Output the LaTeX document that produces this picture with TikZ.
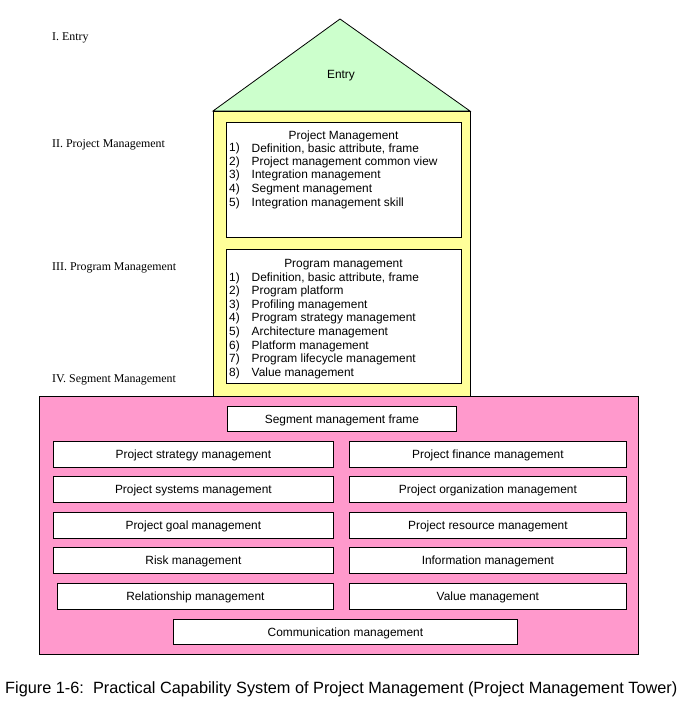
\documentclass[tikz,border=0pt]{standalone}
\usepackage{fontspec}
\setmainfont{Liberation Serif}
\newfontfamily\arial{Liberation Sans}
\definecolor{entrygreen}{RGB}{204,255,204}
\definecolor{toweryellow}{RGB}{255,255,153}
\definecolor{segpink}{RGB}{255,153,204}
\begin{document}
\begin{tikzpicture}[x=1pt,y=-1pt,
  outline/.style={draw=black,line width=0.8pt},
  wbox/.style={outline,fill=white,inner sep=0pt,anchor=north west},
  lbl/.style={font=\arial\fontsize{11.9}{13}\selectfont,inner sep=0pt,yshift=-1.5pt},
  side/.style={font=\fontsize{11.9}{13}\selectfont,inner sep=0pt,anchor=west,yshift=-1.5pt},
  item/.style={font=\arial\fontsize{11.9}{13}\selectfont,inner sep=0pt,anchor=west,yshift=-1pt}]
\useasboundingbox (0,0) rectangle (688,715);
% roof
\draw[outline,fill=entrygreen] (213,111) -- (340,19) -- (470,111) -- cycle;
\node[lbl] (entry) at (341,74) {Entry};
% tower
\draw[outline,fill=toweryellow] (213,111) rectangle (470,396);
% project management box
\node[wbox,minimum width=235pt,minimum height=115pt] (pm) at (226,122) {};
\node[lbl] (pmt) at (343.5,135) {Project Management};
\foreach \i/\t [count=\k] in {1/{Definition, basic attribute, frame},2/{Project management common view},3/{Integration management},4/{Segment management},5/{Integration management skill}}{
  \node[item] (pmn\k) at (229,{147.5+(\k-1)*13.7}) {\i)};
  \node[item] (pml\k) at (251.5,{147.5+(\k-1)*13.7}) {\t};
}
% program management box
\node[wbox,minimum width=235pt,minimum height=134pt] (pg) at (226,249) {};
\node[lbl] (pgt) at (343.5,263) {Program management};
\foreach \i/\t [count=\k] in {1/{Definition, basic attribute, frame},2/{Program platform},3/{Profiling management},4/{Program strategy management},5/{Architecture management},6/{Platform management},7/{Program lifecycle management},8/{Value management}}{
  \node[item] (pgn\k) at (229,{277+(\k-1)*13.6}) {\i)};
  \node[item] (pgl\k) at (251.5,{277+(\k-1)*13.6}) {\t};
}
% segment base
\draw[outline,fill=segpink] (39,396) rectangle (638,654);
\node[wbox,minimum width=229pt,minimum height=25pt] (smf) at (227,406) {};
\node[lbl] (smft) at (smf.center) {Segment management frame};
% rows
\foreach \y/\a/\b [count=\k] in {441/{Project strategy management}/{Project finance management},476/{Project systems management}/{Project organization management},512/{Project goal management}/{Project resource management},547/{Risk management}/{Information management}}{
  \node[wbox,minimum width=280pt,minimum height=26pt] (L\k) at (53,\y) {};
  \node[lbl] (Lt\k) at (L\k.center) {\a};
  \node[wbox,minimum width=277pt,minimum height=26pt] (R\k) at (349,\y) {};
  \node[lbl] (Rt\k) at (R\k.center) {\b};
}
\node[wbox,minimum width=276pt,minimum height=26pt] (L5) at (57,583) {};
\node[lbl] (Lt5) at (L5.center) {Relationship management};
\node[wbox,minimum width=277pt,minimum height=26pt] (R5) at (349,583) {};
\node[lbl] (Rt5) at (R5.center) {Value management};
\node[wbox,minimum width=344pt,minimum height=25pt] (cm) at (173,619) {};
\node[lbl] (cmt) at (cm.center) {Communication management};
% side labels
\node[side] (s1) at (52,36) {I. Entry};
\node[side] (s2) at (52,143) {II. Project Management};
\node[side] (s3) at (52,266) {III. Program Management};
\node[side] (s4) at (52,378) {IV. Segment Management};
% caption
\node[font=\arial\fontsize{16.3}{18}\selectfont,inner sep=0pt,anchor=west,yshift=-1pt] (cap) at (5,688) {Figure 1-6:\ \ Practical Capability System of Project Management (Project Management Tower)};
\end{tikzpicture}
\end{document}
